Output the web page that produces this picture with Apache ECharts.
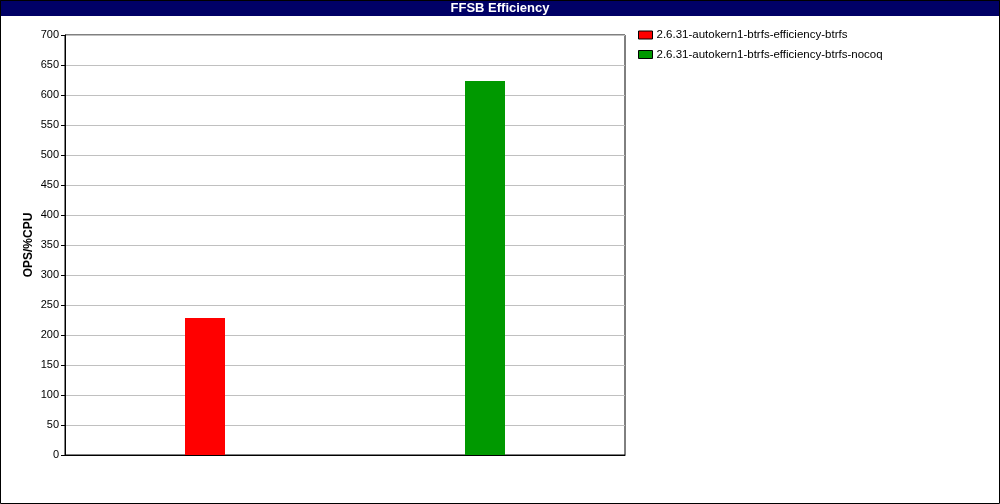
<!DOCTYPE html>
<html><head><meta charset="utf-8">
<style>html,body{margin:0;padding:0;background:#fff}#c{width:1000px;height:504px}</style>
<script src="https://cdn.jsdelivr.net/npm/echarts@6/dist/echarts.min.js"></script>
</head><body><div id="c"></div>
<script>
const categories = ['', ''];
const seriesNames = ['2.6.31-autokern1-btrfs-efficiency-btrfs', '2.6.31-autokern1-btrfs-efficiency-btrfs-nocoq'];
const btrfsValues = [228.5, null];
const nocoqValues = [null, 623.5];
const colors = ['#ff0000', '#009900'];

const chart = echarts.init(document.getElementById('c'), null, {renderer: 'canvas'});
chart.setOption({
  animation: false,
  backgroundColor: '#fff',
  graphic: [
    {type: 'rect', shape: {x: 0.5, y: 0.5, width: 999, height: 503}, style: {fill: 'none', stroke: '#000', lineWidth: 1}, z: 100},
    {type: 'rect', shape: {x: 0, y: 0, width: 1000, height: 16}, style: {fill: '#000066'}, z: 99},
    {type: 'text', x: 500, y: 8, style: {text: 'FFSB Efficiency', fill: '#fff', font: 'bold 13px "Liberation Sans", Arial, sans-serif', align: 'center', verticalAlign: 'middle'}, z: 101}
  ],
  legend: {
    orient: 'vertical', left: 638, top: 29, padding: 0, itemWidth: 14, itemHeight: 8, itemGap: 7.5,
    icon: 'rect',
    itemStyle: {borderColor: '#000', borderWidth: 1},
    textStyle: {fontFamily: '"Liberation Sans", Arial, sans-serif', fontSize: 11.5, color: '#000', padding: [0,0,0,-1]},
    data: seriesNames
  },
  grid: {left: 65, top: 35, width: 560, height: 420, show: true, borderColor: '#000', borderWidth: 1, containLabel: false},
  xAxis: {
    type: 'category', data: categories,
    axisLine: {show: true, lineStyle: {color: '#000'}},
    axisTick: {show: false}, axisLabel: {show: false}, splitLine: {show: false}
  },
  yAxis: {
    type: 'value', min: 0, max: 700, interval: 50,
    name: 'OPS/%CPU', nameLocation: 'middle', nameGap: 30, nameRotate: 90, nameMoveOverlap: false,
    nameTextStyle: {fontFamily: '"Liberation Sans", Arial, sans-serif', fontWeight: 'bold', fontSize: 12, color: '#000'},
    axisLine: {show: true, lineStyle: {color: '#000'}},
    axisTick: {show: true, length: 4, inside: false, lineStyle: {color: '#000'}},
    axisLabel: {fontFamily: '"Liberation Sans", Arial, sans-serif', fontSize: 11, color: '#000', margin: 6},
    splitLine: {show: true, lineStyle: {color: '#c0c0c0', width: 1}}
  },
  series: [
    {name: seriesNames[0], type: 'bar', data: btrfsValues, barWidth: 40, barGap: '-100%', itemStyle: {color: colors[0]}},
    {name: seriesNames[1], type: 'bar', data: nocoqValues, barWidth: 40, barGap: '-100%', itemStyle: {color: colors[1]}}
  ]
});
</script></body></html>
